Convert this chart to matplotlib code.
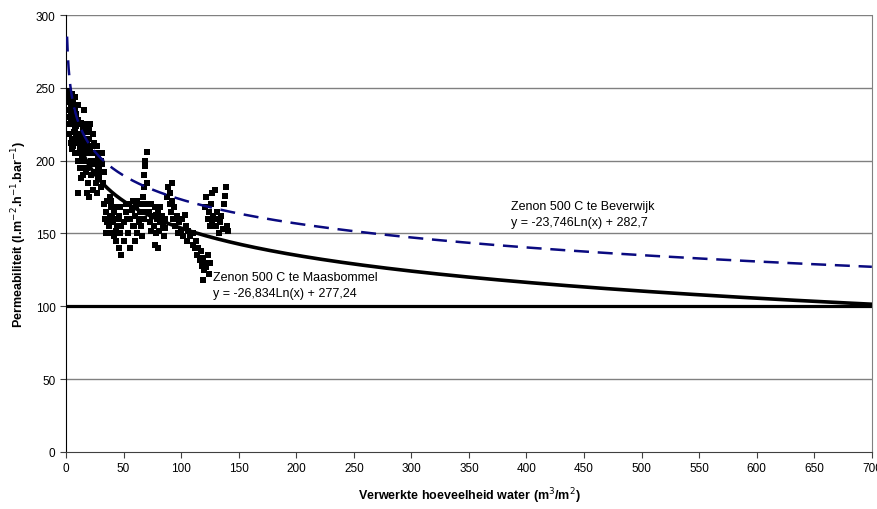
import numpy as np
import matplotlib
matplotlib.use('Agg')
from matplotlib import pyplot as plt

plt.rcParams['font.family'] = ['Liberation Sans', 'DejaVu Sans']

# Meetpunten Maasbommel.
meet_x = [1, 2, 2, 3, 3, 4, 4, 5, 5, 6, 6, 7, 7, 8, 8, 9, 9, 10, 10,
          2, 3, 4, 4, 5, 6, 7, 8, 3, 9,
          5, 6, 7, 8, 9, 10, 11, 11, 12, 12, 13, 13, 14, 14, 15, 15,
          16, 16, 17, 17, 18, 18, 19, 19, 20, 20, 21, 21, 22, 22, 23, 23, 24, 24,
          25, 25, 26, 26, 27, 27, 28, 28, 29, 29, 30, 30, 31, 31, 32, 20, 18, 16, 10,
          12, 14, 16, 18, 20, 22, 24, 26, 28, 30, 13, 17, 21, 25, 29, 33,
          33, 34, 35, 36, 37, 38, 39, 40, 41, 42, 43, 44, 45, 46, 47, 48, 47, 38, 35, 42,
          36, 40, 44, 48, 39, 43, 46, 50,
          50, 52, 54, 55, 56, 58, 58, 60, 61, 62, 63, 64, 60, 56, 52, 65, 66, 66,
          53, 57, 59, 62, 64,
          67, 68, 68, 69, 69, 70, 70, 71, 69, 68,
          72, 73, 74, 75, 76, 77, 78, 79, 80, 81, 82, 83, 84, 85, 77, 80, 86,
          74, 78, 82, 86,
          88, 89, 90, 90, 91, 92, 93, 94, 95, 96, 97, 92,
          98, 100, 101, 102, 104, 105, 106, 108, 110, 103,
          110, 112, 113, 114, 115, 116, 117, 118, 119, 120, 121, 122, 123, 124, 119, 125,
          121, 122, 123, 124, 125, 126, 127, 128, 130, 131, 132, 133, 134, 135, 136, 137,
          138, 139, 140, 141, 129, 127]
meet_y = [240, 235, 245, 230, 242, 238, 228, 246, 233, 240, 225, 236, 230, 244, 222, 232, 218, 238, 228,
          225, 218, 212, 232, 208, 226, 214, 236, 248, 224,
          215, 210, 220, 205, 212, 200, 215, 225, 208, 195, 218, 226, 202, 212, 222, 190,
          215, 200, 208, 225, 195, 212, 220, 185, 205, 215, 198, 225, 190, 210, 218, 180, 200, 212,
          192, 205, 185, 198, 210, 178, 195, 202, 188, 205, 192, 200, 198, 205, 185, 175, 178, 235, 178,
          205, 195, 220, 205, 222, 200, 192, 210, 188, 182, 188, 192, 208, 198, 196, 192,
          170, 160, 165, 172, 155, 162, 168, 150, 158, 165, 145, 155, 160, 140, 150, 135, 168, 175, 150, 148,
          158, 162, 168, 155, 172, 152, 162, 145,
          158, 165, 150, 170, 160, 155, 172, 162, 168, 150, 158, 165, 145, 140, 170, 155, 170, 148,
          160, 166, 155, 172, 160,
          175, 182, 190, 196, 200, 206, 185, 170, 165, 160,
          165, 158, 170, 162, 155, 168, 150, 160, 165, 152, 158, 162, 155, 148, 142, 140, 160,
          152, 163, 168, 154,
          175, 182, 178, 170, 165, 172, 160, 168, 155, 162, 150, 185,
          158, 152, 160, 148, 155, 145, 152, 148, 142, 163,
          150, 140, 145, 135, 140, 132, 138, 128, 133, 125, 130, 127, 135, 122, 118, 130,
          168, 175, 160, 165, 155, 170, 158, 162, 155, 165, 160, 150, 158, 162, 153, 170,
          176, 182, 155, 152, 180, 178]

# Trendlijnen: y = a*Ln(x) + b
bev_a, bev_b = -23.746, 282.7
maas_a, maas_b = -26.834, 277.24
bev_label = 'Zenon 500 C te Beverwijk\ny = -23,746Ln(x) + 282,7'
maas_label = 'Zenon 500 C te Maasbommel\ny = -26,834Ln(x) + 277,24'

x_ticks = list(range(0, 701, 50))
y_ticks = list(range(0, 301, 50))

fig = plt.figure(figsize=(8.78, 5.10), dpi=100)
ax = fig.add_axes([0.0752, 0.1118, 0.9178, 0.8568])

for y in y_ticks[1:]:
    if y == 100:
        continue
    ax.axhline(y, color='#808080', lw=1.0, zorder=1)
ax.axhline(100, color='black', lw=2.3, zorder=2)

ax.scatter(meet_x, meet_y, marker='s', s=16, color='black', lw=0, zorder=3)

xb = np.linspace(0.9, 700, 2000)
ax.plot(xb, bev_a * np.log(xb) + bev_b, color='#0a0a80', lw=1.8,
        dashes=(6, 3.5), zorder=4)
xm = np.linspace(5, 700, 2000)
ax.plot(xm, maas_a * np.log(xm) + maas_b, color='black', lw=2.6, zorder=4)

ax.text(386.5, 163.5, bev_label, fontsize=9, va='center', ha='left', linespacing=1.5)
ax.text(128, 114.5, maas_label, fontsize=9, va='center', ha='left', linespacing=1.5)

ax.set_xlim(0, 700)
ax.set_ylim(0, 300)
ax.set_xticks(x_ticks)
ax.set_yticks(y_ticks)
ax.tick_params(labelsize=8.5, length=4, width=0.8, color='#404040')
ax.spines['top'].set_visible(False)
ax.spines['right'].set_color('#808080')
ax.spines['left'].set_color('black')
ax.spines['bottom'].set_color('#404040')

ax.set_xlabel('Verwerkte hoeveelheid water (m$^3$/m$^2$)', fontsize=9,
              fontweight='bold', labelpad=8)
ax.set_ylabel('Permeabiliteit (l.m$^{-2}$.h$^{-1}$.bar$^{-1}$)', fontsize=9,
              fontweight='bold', labelpad=5)

fig.savefig('out.png', dpi=100)
